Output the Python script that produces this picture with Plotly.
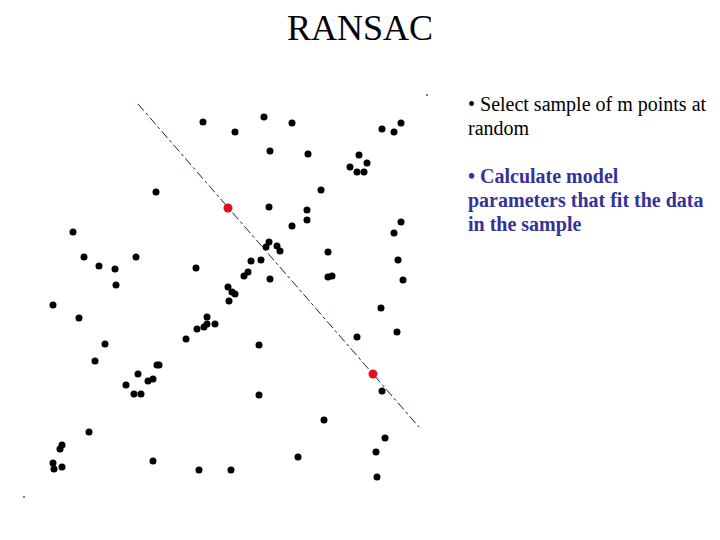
import plotly.graph_objects as go

# Data points (in picture coordinates)
pts_x = [203, 156, 73, 84, 99, 115, 136, 196, 116, 264, 292, 235, 382, 394, 401, 270, 308, 359, 367, 350, 357, 364,
         321, 269, 307, 307, 292, 401, 394, 269, 266, 277, 280, 328, 251, 261, 398, 248, 244, 270, 328, 332, 403,
         228, 232, 235, 229, 53, 79, 207, 197, 204, 207, 215, 186, 105, 95, 157, 159, 138, 153, 148, 126, 134, 141,
         89, 62, 60, 53, 54, 62, 153, 199, 231, 381, 397, 357, 259, 382, 259, 324, 385, 376, 298, 377]
pts_y = [122, 192, 232, 257, 266, 269, 257, 268, 285, 117, 123, 132, 129, 132, 123, 151, 154, 155, 163, 167, 172, 172,
         190, 207, 210, 220, 226, 222, 233, 242, 247, 246, 251, 252, 261, 260, 260, 272, 276, 279, 277, 276, 280,
         287, 292, 294, 301, 305, 318, 317, 329, 327, 324, 324, 339, 344, 361, 365, 365, 374, 379, 381, 385, 394, 394,
         432, 445, 449, 463, 469, 467, 461, 470, 470, 308, 332, 337, 345, 391, 395, 420, 438, 452, 457, 477]
tiny_x = [427, 24]
tiny_y = [95, 497]
sample_x = [228, 373]
sample_y = [208, 374]
line_x = [138, 419]
line_y = [104, 427]

title_text = "RANSAC"
bullet1 = ["• Select sample of m points at", "random"]
bullet2 = ["• Calculate model", "parameters that fit the data", "in the sample"]

fig = go.Figure()
fig.add_trace(go.Scatter(x=line_x, y=line_y, mode="lines",
                         line=dict(color="#1a1a66", width=1, dash="dashdot"), hoverinfo="skip"))
fig.add_trace(go.Scatter(x=pts_x, y=pts_y, mode="markers",
                         marker=dict(color="black", size=7, line=dict(width=0))))
fig.add_trace(go.Scatter(x=tiny_x, y=tiny_y, mode="markers",
                         marker=dict(color="#555555", size=2, line=dict(width=0))))
fig.add_trace(go.Scatter(x=sample_x, y=sample_y, mode="markers",
                         marker=dict(color="#e0101c", size=9, line=dict(width=0))))

fig.add_annotation(x=360, y=28, xref="x", yref="y", text=title_text, showarrow=False,
                   font=dict(family="Liberation Serif", size=36, color="black"),
                   xanchor="center", yanchor="middle")
for i, t in enumerate(bullet1):
    fig.add_annotation(x=466, y=104 + 24 * i, xref="x", yref="y", text=t, showarrow=False,
                       font=dict(family="Liberation Serif", size=20, color="black"),
                       xanchor="left", yanchor="middle")
for i, t in enumerate(bullet2):
    fig.add_annotation(x=466, y=176 + 24 * i, xref="x", yref="y", text="<b>" + t + "</b>", showarrow=False,
                       font=dict(family="Liberation Serif", size=20, color="#333399"),
                       xanchor="left", yanchor="middle")

# page body has an 8px margin, so the axis ranges are offset to keep picture coordinates
fig.update_layout(width=720, height=540, margin=dict(l=0, r=0, t=0, b=0),
                  paper_bgcolor="white", plot_bgcolor="white", showlegend=False,
                  xaxis=dict(range=[8, 728], visible=False, fixedrange=True),
                  yaxis=dict(range=[548, 8], visible=False, fixedrange=True))
fig.write_html("out.html")
